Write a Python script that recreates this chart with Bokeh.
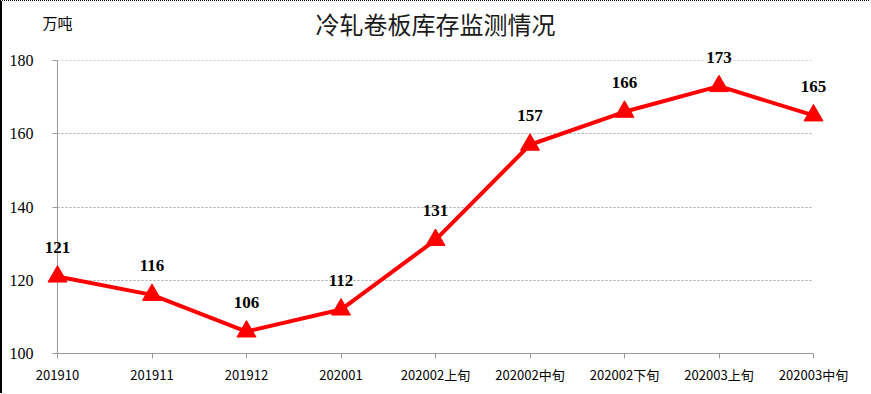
from bokeh.plotting import figure
from bokeh.models import FixedTicker, Range1d, ColumnDataSource, Span
from bokeh.core.properties import value
from bokeh.embed import file_html
from bokeh.resources import INLINE

categories = ["201910", "201911", "201912", "202001", "202002上旬",
              "202002中旬", "202002下旬", "202003上旬", "202003中旬"]
inventory = [121, 116, 106, 112, 131, 157, 166, 173, 165]
y_ticks = [100, 120, 140, 160, 180]
title_text = "冷轧卷板库存监测情况"
unit_text = "万吨"

xs = list(range(len(categories)))
src = ColumnDataSource(dict(x=xs, y=inventory, label=[str(v) for v in inventory]))

p = figure(width=869, height=393, output_backend="svg", toolbar_location=None,
           x_range=Range1d(0, len(categories) - 1), y_range=Range1d(100, 180),
           min_border_left=55, min_border_right=58, min_border_top=59, min_border_bottom=41)
p.styles = {"border-left": "2px solid black", "border-top": "1px dotted black"}
p.outline_line_color = None
p.background_fill_color = "white"
p.border_fill_color = "white"

# axes
p.xaxis.ticker = FixedTicker(ticks=xs)
p.xaxis.major_label_overrides = {i: c for i, c in enumerate(categories)}
p.yaxis.ticker = FixedTicker(ticks=y_ticks)
for ax in (p.xaxis, p.yaxis):
    ax.axis_line_color = "#9a9a9a"
    ax.axis_line_width = 1
    ax.major_tick_line_color = "#9a9a9a"
    ax.major_tick_out = 5
    ax.major_tick_in = 0
    ax.minor_tick_line_color = None
p.yaxis.major_label_text_font = "Liberation Serif"
p.yaxis.major_label_text_font_size = "16px"
p.yaxis.major_label_text_color = "black"
p.yaxis.major_label_standoff = 19
p.xaxis.major_label_text_font = "Noto Sans CJK SC"
p.xaxis.major_label_text_font_size = "13px"
p.xaxis.major_label_text_color = "black"
p.xaxis.major_label_standoff = 6

p.xgrid.grid_line_color = None
p.ygrid.grid_line_color = "#a8a8a8"
p.ygrid.grid_line_dash = "2 2"
p.ygrid.grid_line_width = 1
p.add_layout(Span(location=y_ticks[-1], dimension="width", line_color="#a8a8a8",
                  line_dash="2 2", line_width=1))

# data
p.line("x", "y", source=src, line_color="#ff0000", line_width=4, level="annotation")
p.scatter("x", "y", source=src, marker="triangle", size=19, fill_color="#ff0000",
          line_color="#ff0000", level="annotation")
p.text("x", "y", text="label", source=src, y_offset=-29, text_align="center",
       text_baseline="middle", text_font=value("Liberation Serif"),
       text_font_style="bold", text_font_size="17px", text_color="black",
       level="annotation")

# title and unit (placed above the frame, relative to the top of the y range)
top = y_ticks[-1]
p.text(x=[(len(categories) - 1) / 2], y=[top], text=[title_text], y_offset=-37,
       text_align="center", text_baseline="middle",
       text_font=value("Noto Sans CJK SC"), text_font_size="24px",
       text_color="#1a1a1a", level="annotation")
p.text(x=[0], y=[top], text=[unit_text], y_offset=-38,
       text_align="center", text_baseline="middle",
       text_font=value("Noto Sans CJK SC"), text_font_size="15px",
       text_color="black", level="annotation")

open("out.html", "w").write(file_html(p, INLINE))
